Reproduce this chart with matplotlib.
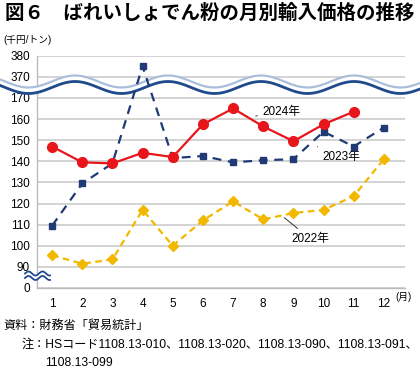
import numpy as np
import matplotlib
matplotlib.use("Agg")
import matplotlib.pyplot as plt
from matplotlib.transforms import Affine2D

plt.rcParams['font.family'] = ['Liberation Sans', 'Noto Sans CJK JP', 'DejaVu Sans']

# データ（千円/トン）
months = list(range(1, 13))
y2024 = [147, 139.5, 139, 144, 142, 157.5, 165, 156.5, 149.5, 157.5, 163.5]
y2023 = [109.5, 129.5, 139, 375, 141.5, 142.5, 139.5, 140.5, 141, 154, 147, 156]
y2022 = [95.5, 91.5, 93.5, 117, 100, 112, 121, 112.5, 115.5, 117, 123.5, 141]
yticks = [0, 90, 100, 110, 120, 130, 140, 150, 160, 170, 370, 380]

title = "図６　ばれいしょでん粉の月別輸入価格の推移"
source = "資料：財務省「貿易統計」"
note1 = "注：HSコード1108.13-010、1108.13-020、1108.13-090、1108.13-091、"
note2 = "1108.13-099"


# 省略軸: 0-90, 90-170, 170-370, 370-380
def fwd(v):
    v = np.asarray(v, float)
    return np.where(v <= 90, v / 90,
           np.where(v <= 170, 1 + (v - 90) / 10,
           np.where(v <= 370, 9 + (v - 170) / 200, 10 + (v - 370) / 10)))


def inv(t):
    t = np.asarray(t, float)
    return np.where(t <= 1, t * 90,
           np.where(t <= 9, 90 + (t - 1) * 10,
           np.where(t <= 10, 170 + (t - 9) * 200, 370 + (t - 10) * 10)))


W, H = 420, 369
fig = plt.figure(figsize=(W / 100, H / 100), dpi=100)
ax = fig.add_axes([37 / W, 1 - 288 / H, (405 - 37) / W, (288 - 55.7) / H])
ax.set_yscale('function', functions=(fwd, inv))
ax.set_ylim(0, 380)
ax.set_xlim(0.5, 12.7)
ax.set_yticks(yticks)
ax.set_yticklabels([str(t) for t in yticks])
ax.set_xticks(months)
ax.tick_params(length=0, labelsize=8.5, pad=5)
ax.tick_params(axis='x', pad=7)
ax.grid(axis='y', color='#cccccc', lw=1.2)
ax.set_axisbelow(True)
for s in ['top', 'right']:
    ax.spines[s].set_visible(False)
for s in ['left', 'bottom']:
    ax.spines[s].set_color('#bbbbbb')
    ax.spines[s].set_linewidth(1)

navy = '#1f3a75'
red = '#e8151b'
gold = '#f2b800'

ax.plot(months, y2022, color=gold, lw=1.6, ls=(0, (3, 2)), marker='D', ms=5,
        zorder=4)
ax.plot(months, y2023, color=navy, lw=1.6, ls=(0, (4, 3)), marker='s', ms=5,
        zorder=4)
ax.plot(months[:11], y2024, color=red, lw=1.6, marker='o', ms=7, zorder=5)

# 系列ラベル
lab = dict(fontsize=8.5, ha='left', va='center',
           arrowprops=dict(arrowstyle='-', color='#333333', lw=0.7))
ax.annotate("2024年", xy=(7.66, 161.2), xytext=(7.99, 163.4), **lab)
ax.annotate("2023年", xy=(9.71, 147.4), xytext=(9.97, 142.2), **lab)
ax.annotate("2022年", xy=(8.63, 114.1), xytext=(8.94, 103.2), **lab)

# 波線（省略記号）: 図のピクセル座標で描く
px = Affine2D().scale(1 / W, -1 / H).translate(0, 1) + fig.transFigure
xs = np.linspace(0, W, 400)
ph = np.cos(2 * np.pi * (xs - 75) / 93)
up = 81.5 - 6 * ph
lo = 87.5 - 6 * ph
ax.fill(np.r_[xs, xs[::-1]], np.r_[up, lo[::-1]], color='white',
        transform=px, clip_on=False, zorder=3, lw=0)
ax.plot(xs, up, color='#a9bedb', lw=1.6, transform=px, clip_on=False, zorder=3)
ax.plot(xs, lo, color='#1f4a8c', lw=2, transform=px, clip_on=False, zorder=3)

xs2 = np.linspace(25, 50, 60)
w2 = 2 * np.sin(2 * np.pi * (xs2 - 25) / 14)
ax.fill(np.r_[xs2, xs2[::-1]], np.r_[273.5 - w2, 278 - w2[::-1]], color='white',
        transform=px, clip_on=False, zorder=3, lw=0)
ax.plot(xs2, 273.5 - w2, color='#1f4a8c', lw=1.3, transform=px, clip_on=False, zorder=3)
ax.plot(xs2, 278 - w2, color='#1f4a8c', lw=1.3, transform=px, clip_on=False, zorder=3)

# テキスト
fig.text(5 / W, 1 - 13 / H, title, fontsize=14, fontweight='bold',
         ha='left', va='center')
fig.text(3 / W, 1 - 40 / H, "(千円/トン)", fontsize=7, ha='left', va='center')
fig.text(395 / W, 1 - 297 / H, "(月)", fontsize=7, ha='left', va='center')
fig.text(3 / W, 1 - 326 / H, source, fontsize=8.7, ha='left', va='center')
fig.text(22 / W, 1 - 345 / H, note1, fontsize=8.7, ha='left', va='center')
fig.text(45 / W, 1 - 363 / H, note2, fontsize=8.7, ha='left', va='center')

fig.savefig("out.png", dpi=100)
